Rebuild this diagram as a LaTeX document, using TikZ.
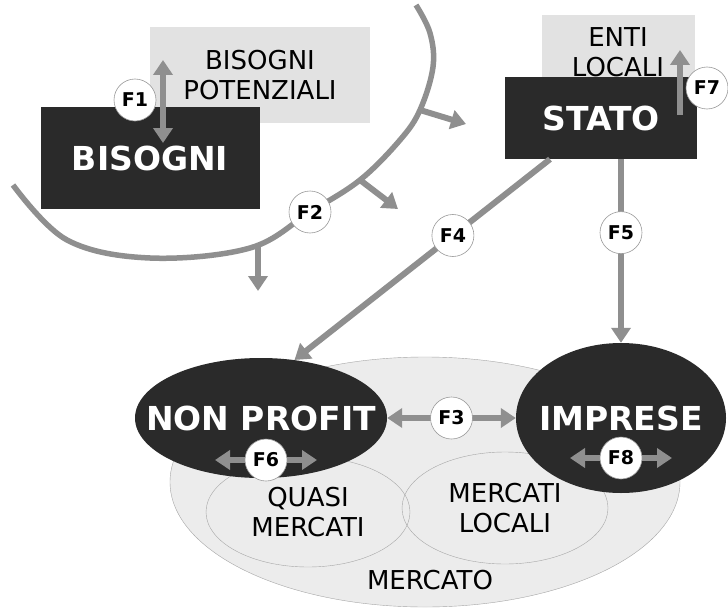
\documentclass[tikz,border=0pt]{standalone}
\usepackage{fontspec}
\setmainfont{DejaVu Sans}
\usetikzlibrary{positioning,shapes.geometric,arrows.meta}
\definecolor{scuro}{HTML}{2A2A2A}
\definecolor{chiaro}{HTML}{E2E2E2}
\definecolor{grigio}{HTML}{8F8F8F}
\definecolor{fondo}{HTML}{ECECEC}

\begin{document}
\begin{tikzpicture}
            [
                x=1pt, y=-1pt,
                scatola/.style={rectangle, fill=scuro, text=white, inner sep=0pt, font=\bfseries\fontsize{33}{36}\selectfont},
                riquadro/.style={rectangle, fill=chiaro, align=center, inner sep=0pt, font=\fontsize{26}{30}\selectfont},
                ovale/.style={ellipse, fill=scuro, inner sep=0pt},
                bianco/.style={text=white, font=\bfseries\fontsize{33}{36}\selectfont},
                mercato/.style={ellipse, draw=black!35, inner sep=0pt, align=center, font=\fontsize{26}{30}\selectfont},
                flusso/.style={draw=grigio, line width=6pt, -{Triangle[length=15pt,width=19pt]}},
                doppio/.style={draw=grigio, line width=6pt, {Triangle[length=15pt,width=19pt]}-{Triangle[length=15pt,width=19pt]}},
                confine/.style={draw=grigio, line width=5.5pt},
                cerchio/.style={circle, draw=black!40, line width=0.6pt, fill=white, minimum size=42pt, inner sep=0pt, font=\bfseries\fontsize{19}{19}\selectfont},
            ]
            \useasboundingbox[fill=white] (0,0) rectangle (728,610);
            %obs: bisogni e confine
            \node[riquadro, minimum width=220pt, minimum height=95pt] (potenziali) at (260,75) {BISOGNI\\POTENZIALI};
            \node[scatola, minimum width=219pt, minimum height=102pt] (bisogni) at (150,158) {BISOGNI};
            \coordinate (f1a) at (163,60);
            \coordinate (f1b) at (163,143);
            \draw[doppio] (f1a) -- (f1b);
            \node[cerchio] (f1) at (135,100) {F1};
            \coordinate (c1) at (13,185);
            \coordinate (c2) at (67,240);
            \coordinate (c3) at (150,258);
            \coordinate (c4) at (250,248);
            \coordinate (c5) at (310,212);
            \coordinate (c6) at (360,180);
            \coordinate (c7) at (400,140);
            \coordinate (c8) at (420,110);
            \coordinate (c9) at (433,67);
            \coordinate (c10) at (430,33);
            \coordinate (c11) at (416,5);
            \draw[confine] plot[smooth, tension=0.6] coordinates {(c1) (c2) (c3) (c4) (c5) (c6) (c7) (c8) (c9) (c10) (c11)};
            \coordinate (r1) at (466,124);
            \coordinate (r2) at (398,209);
            \coordinate (r3) at (258,291);
            \draw[flusso] (c8) -- (r1);
            \draw[flusso] (c6) -- (r2);
            \draw[flusso] (258,246) -- (r3);
            \node[cerchio] (f2) at (c5) {F2};
            %obs: stato
            \node[riquadro, minimum width=153pt, minimum height=74pt] (enti) at (618,52) {ENTI\\LOCALI};
            \node[scatola, minimum width=192pt, minimum height=82pt] (stato) at (601,118) {STATO};
            \coordinate (f7a) at (680,115);
            \coordinate (f7b) at (680,50);
            \draw[flusso] (f7a) -- (f7b);
            \node[cerchio] (f7) at (707,88) {F7};
            %obs: mercato
            \node[mercato, fill=fondo, minimum width=510pt, minimum height=250pt] (merc) at (425,482) {};
            \node[font=\fontsize{26}{30}\selectfont] (merctesto) at (430,580) {MERCATO};
            \node[mercato, minimum width=204pt, minimum height=110pt] (quasi) at (308,512) {QUASI\\MERCATI};
            \node[mercato, minimum width=206pt, minimum height=112pt] (locali) at (505,508) {MERCATI\\LOCALI};
            \node[ovale, minimum width=252pt, minimum height=120pt, label={[bianco]center:NON PROFIT}] (nonprofit) at (261,418) {};
            \node[ovale, minimum width=210pt, minimum height=150pt, label={[bianco]center:IMPRESE}] (imprese) at (621,418) {};
            \draw[flusso] ([xshift=-51pt]stato.south) -- (nonprofit.60) node[cerchio, pos=0.38] (f4) {F4};
            \draw[flusso] ([xshift=20pt]stato.south) -- (imprese.north) node[cerchio, pos=0.4] (f5) {F5};
            \draw[doppio] (nonprofit.east) -- (imprese.west) node[cerchio, midway] (f3) {F3};
            \coordinate (f6a) at (215,460);
            \coordinate (f6b) at (317,460);
            \draw[doppio] (f6a) -- (f6b) node[cerchio, midway] (f6) {F6};
            \coordinate (f8a) at (570,458);
            \coordinate (f8b) at (672,458);
            \draw[doppio] (f8a) -- (f8b) node[cerchio, midway] (f8) {F8};
        \end{tikzpicture}
\end{document}
